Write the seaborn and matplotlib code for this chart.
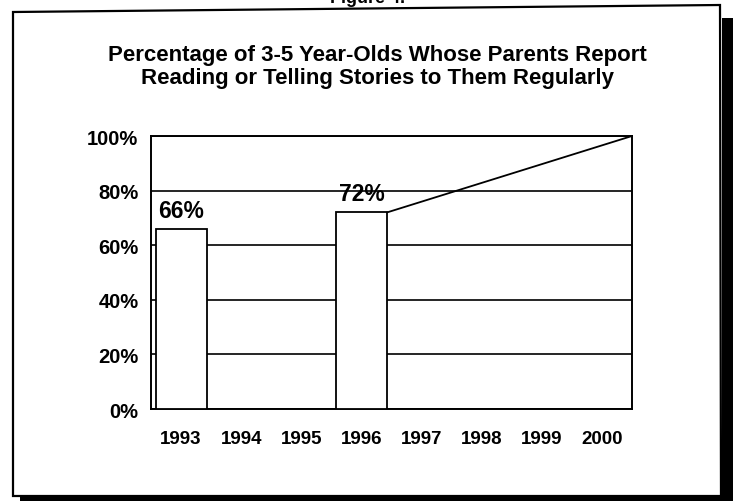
import numpy as np
import pandas as pd
import matplotlib
matplotlib.use("Agg")
import matplotlib.pyplot as plt
from matplotlib.patches import Polygon
import seaborn as sns

# Chart data
years = ["1993", "1994", "1995", "1996", "1997", "1998", "1999", "2000"]
bar_years = ["1993", "1996"]
bar_values = [66, 72]
goal_years = ["1996", "2000"]
goal_values = [72, 100]
y_ticks = [0, 20, 40, 60, 80, 100]
y_labels = ["0%", "20%", "40%", "60%", "80%", "100%"]
title = ("Percentage of 3-5 Year-Olds Whose Parents Report\n"
         "Reading or Telling Stories to Them Regularly")

sns.set_theme(style="white")
plt.rcParams["font.family"] = ["Liberation Sans", "DejaVu Sans"]
plt.rcParams.update({"text.color": "black", "xtick.color": "black",
                     "ytick.color": "black", "axes.labelcolor": "black"})

W, H = 733, 502
fig = plt.figure(figsize=(W / 100, H / 100), dpi=100)
fig.patch.set_facecolor("white")

# axes placed in pixel terms (left, right, top, bottom)
l, r, t, b = 151, 632, 137, 410
ax = fig.add_axes([l / W, 1 - b / H, (r - l) / W, (b - t) / H])

df = pd.DataFrame({"year": bar_years, "pct": bar_values})
bar_width = 0.85
sns.barplot(data=df, x="year", y="pct", order=years, color="white",
            edgecolor="black", linewidth=1.3, width=bar_width,
            saturation=1, ax=ax, zorder=3)

ax.set_xlim(-0.5, len(years) - 0.5)
ax.set_ylim(0, 100)
ax.set_yticks(y_ticks)
ax.set_yticklabels(y_labels, fontsize=14.5, fontweight="bold")
ax.set_xticks(range(len(years)))
ax.set_xticklabels(years, fontsize=13.5, fontweight="bold")
ax.tick_params(axis="y", length=0, pad=9)
ax.tick_params(axis="x", length=0, pad=15)
ax.set_xlabel("")
ax.set_ylabel("")

ax.set_axisbelow(True)
ax.yaxis.grid(True, color="black", linewidth=1.2)
ax.xaxis.grid(False)
for s in ax.spines.values():
    s.set_visible(True)
    s.set_color("black")
    s.set_linewidth(1.4)

# goal line from top-right of 1996 bar to the 2000 target
gx = [years.index(goal_years[0]) + bar_width / 2, years.index(goal_years[1]) + 0.5]
ax.plot(gx, goal_values, color="black", linewidth=1.3, zorder=4, clip_on=False)

# value labels
for yr, v in zip(bar_years, bar_values):
    ax.annotate(f"{v}%", (years.index(yr), v), xytext=(0, 5),
                textcoords="offset points", ha="center", va="bottom",
                fontsize=16.5, fontweight="bold", zorder=5)

fig.text(377 / W, 1 - 67 / H, title, ha="center", va="center",
         fontsize=16, fontweight="bold", linespacing=1.15)

# scanned page frame with drop shadow
fig.patches.append(Polygon([(722 / W, 1 - 19 / H), (1, 1 - 19 / H), (1, 0),
                            (20 / W, 0), (20 / W, 1 - 497 / H), (722 / W, 1 - 497 / H)],
                           closed=True, transform=fig.transFigure,
                           facecolor="black", edgecolor="none"))
fig.patches.append(Polygon([(13 / W, 1 - 13 / H), (720 / W, 1 - 6 / H),
                            (721 / W, 1 - 497 / H), (13 / W, 1 - 497 / H)],
                           closed=True, transform=fig.transFigure,
                           facecolor="none", edgecolor="black", linewidth=1.6))
# page caption, clipped at the top edge as in the scan
fig.text(368 / W, 1 - 3 / H, "Figure 4.", ha="center", va="baseline",
         fontsize=13, fontweight="bold")

fig.savefig("out.png", dpi=100)
